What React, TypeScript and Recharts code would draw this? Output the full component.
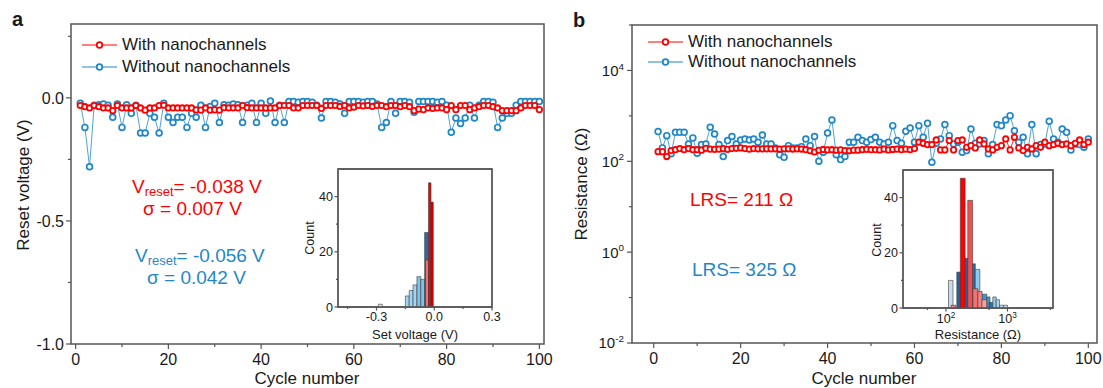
import React from "react"
import { ComposedChart, Line, XAxis, YAxis, ReferenceArea } from "recharts"

const RED = "#ff0000"
const BLUE = "#1f87c8"
const AX = "#555555"
const INK = "#1a1a1a"
const FONT = "'Liberation Sans', Arial, Helvetica, sans-serif"

// panel a: reset voltage (V) per cycle
const resetWith = [
  -0.031, -0.036, -0.041, -0.031, -0.036, -0.041, -0.041, -0.052, -0.031, -0.041,
  -0.041, -0.041, -0.031, -0.041, -0.05, -0.041, -0.041, -0.031, -0.03, -0.041,
  -0.041, -0.041, -0.041, -0.041, -0.041, -0.049, -0.05, -0.041, -0.05, -0.049,
  -0.05, -0.04, -0.041, -0.041, -0.041, -0.031, -0.04, -0.041, -0.041, -0.041,
  -0.041, -0.041, -0.041, -0.031, -0.031, -0.031, -0.041, -0.041, -0.031, -0.031,
  -0.031, -0.031, -0.043, -0.031, -0.031, -0.031, -0.035, -0.031, -0.041, -0.038,
  -0.031, -0.033, -0.031, -0.035, -0.031, -0.031, -0.036, -0.031, -0.031, -0.036,
  -0.031, -0.036, -0.052, -0.046, -0.048, -0.041, -0.043, -0.041, -0.041, -0.048,
  -0.031, -0.048, -0.031, -0.031, -0.048, -0.041, -0.036, -0.031, -0.031, -0.036,
  -0.041, -0.052, -0.052, -0.052, -0.052, -0.041, -0.031, -0.031, -0.031, -0.048,
]
const resetWithout = [
  -0.022, -0.12, -0.28, -0.03, -0.028, -0.025, -0.03, -0.079, -0.025, -0.12,
  -0.028, -0.063, -0.03, -0.143, -0.143, -0.063, -0.079, -0.143, -0.022, -0.079,
  -0.1, -0.079, -0.079, -0.12, -0.063, -0.079, -0.03, -0.12, -0.035, -0.022,
  -0.1, -0.028, -0.03, -0.025, -0.028, -0.1, -0.03, -0.022, -0.1, -0.022,
  -0.063, -0.013, -0.1, -0.03, -0.1, -0.015, -0.015, -0.018, -0.015, -0.015,
  -0.018, -0.03, -0.082, -0.015, -0.015, -0.018, -0.025, -0.063, -0.015, -0.015,
  -0.015, -0.018, -0.015, -0.015, -0.025, -0.12, -0.1, -0.015, -0.063, -0.015,
  -0.015, -0.018, -0.059, -0.015, -0.015, -0.015, -0.015, -0.018, -0.015, -0.03,
  -0.14, -0.082, -0.104, -0.082, -0.03, -0.082, -0.03, -0.015, -0.015, -0.018,
  -0.12, -0.082, -0.063, -0.063, -0.03, -0.015, -0.015, -0.015, -0.015, -0.015,
]

// panel b: LRS resistance (ohm) per cycle
const resWith = [
  163, 163, 127, 172, 180, 190, 180, 190, 180, 180,
  176, 193, 185, 183, 185, 190, 183, 190, 193, 197,
  190, 185, 190, 188, 188, 188, 188, 188, 185, 188,
  188, 186, 188, 186, 180, 170, 160, 175, 182, 178,
  180, 176, 178, 172, 170, 176, 176, 180, 183, 180,
  180, 178, 185, 178, 182, 185, 180, 185, 180, 190,
  263, 249, 233, 233, 295, 178, 178, 285, 178, 285,
  295, 203, 221, 197, 295, 241, 187, 178, 203, 221,
  310, 178, 337, 197, 172, 203, 187, 221, 203, 263,
  221, 233, 249, 233, 241, 221, 249, 295, 233, 263,
]
const resWithout = [
  450, 197, 367, 146, 434, 434, 434, 241, 327, 150,
  233, 241, 560, 400, 233, 127, 285, 350, 241, 295,
  310, 295, 310, 263, 380, 241, 241, 197, 139, 122,
  221, 197, 197, 210, 310, 221, 350, 100, 158, 420,
  810, 140, 109, 127, 263, 263, 337, 285, 263, 300,
  337, 263, 241, 263, 609, 285, 250, 457, 540, 263,
  609, 337, 684, 95, 250, 310, 642, 367, 241, 263,
  158, 172, 515, 250, 241, 285, 146, 233, 642, 609,
  810, 1010, 470, 263, 337, 146, 642, 146, 233, 241,
  760, 310, 263, 515, 434, 178, 241, 233, 203, 310,
]

// inset a: set voltage histograms
const setLoWithout = [-0.29, -0.15, -0.13, -0.11, -0.09, -0.07, -0.05]
const setHiWithout = [-0.27, -0.13, -0.11, -0.09, -0.07, -0.05, -0.03]
const setCountWithout = [1, 4, 6, 8, 11, 10, 27]
const setLoWith = [-0.045, -0.03, -0.017]
const setHiWith = [-0.03, -0.017, -0.005]
const setCountWith = [17, 45, 38]

// inset b: resistance histograms
const resLoWithout = [110, 150, 205, 260, 300, 385, 460, 500, 577, 656, 742, 860]
const resHiWithout = [130, 175, 235, 300, 355, 460, 520, 577, 656, 742, 860, 1000]
const resCountWithout = [10, 13, 18, 16, 14, 5, 4, 2, 4, 3, 1, 1]
const resLoWith = [121, 171, 226, 274, 330, 385]
const resHiWith = [145, 205, 271, 330, 387, 460]
const resCountWith = [1, 47, 39, 7, 6, 3]

const cycles = resetWith.map((_, i) => i + 1)
const resetData = cycles.map((c, i) => ({ cycle: c, with: resetWith[i], without: resetWithout[i] }))
const resData = cycles.map((c, i) => ({ cycle: c, with: resWith[i], without: resWithout[i] }))

// bar shades (style only)
const setShadeWithout = ["#d4e8f5", "#a3d5f0", "#a3d5f0", "#a3d5f0", "#7cc3ea", "#7cc3ea", "#2b6ea6"]
const setShadeWith = ["#ff7070", "#ff0000", "#d40000"]
const resShadeWithout = ["#c9dced", "#22649c", "#22649c", "#2a6ea6", "#8ccbec", "#3f9ad3", "#3f9ad3", "#2a6ea6", "#8ccbec", "#a6d6ef", "#c9dced", "#c9dced"]
const resShadeWith = ["#f08080", "#ff0000", "#f24f4f", "#f47272", "#f58585", "#f7a0a0"]

const near = (v: number, list: number[]) => list.some(m => Math.abs(m - v) <= 1e-6 * Math.max(1, Math.abs(m)))

type TickOpts = { majors: number[]; fmt: (v: number) => React.ReactNode; fs: number; maj: number; min: number; gap: number }

function bottomTick(o: TickOpts) {
  return (p: any) => {
    const v = p.payload.value
    const isMaj = near(v, o.majors)
    return (
      <g>
        <line x1={p.x} x2={p.x} y1={p.y} y2={p.y + (isMaj ? o.maj : o.min)} stroke={AX} strokeWidth={1.2} />
        {isMaj && (
          <text x={p.x} y={p.y + o.gap} textAnchor="middle" fontSize={o.fs} fontFamily={FONT} fill={INK}>
            {o.fmt(v)}
          </text>
        )}
      </g>
    )
  }
}

function leftTick(o: TickOpts) {
  return (p: any) => {
    const v = p.payload.value
    const isMaj = near(v, o.majors)
    return (
      <g>
        <line x1={p.x} x2={p.x - (isMaj ? o.maj : o.min)} y1={p.y} y2={p.y} stroke={AX} strokeWidth={1.2} />
        {isMaj && (
          <text x={p.x - o.gap} y={p.y + o.fs * 0.36} textAnchor="end" fontSize={o.fs} fontFamily={FONT} fill={INK}>
            {o.fmt(v)}
          </text>
        )}
      </g>
    )
  }
}

const fixed1 = (v: number) => (Math.abs(v) < 1e-9 ? "0.0" : v.toFixed(1))
const pow10 = (fs: number) => (v: number) => {
  const e = Math.round(Math.log10(v))
  return (
    <>
      <tspan>10</tspan>
      <tspan dy={-fs * 0.42} fontSize={fs * 0.66}>{e}</tspan>
    </>
  )
}

function LegendBlock({ left, top, gap, width }: { left: number; top: number; gap: number; width: number }) {
  const rows = [
    { name: "With nanochannels", color: RED },
    { name: "Without nanochannels", color: BLUE },
  ]
  return (
    <div style={{ position: "absolute", left, top, fontFamily: FONT, fontSize: 17, color: INK }}>
      {rows.map((r, i) => (
        <div key={r.name} style={{ position: "absolute", left: 0, top: i * gap, height: 20, display: "flex", alignItems: "center", whiteSpace: "nowrap" }}>
          <svg width={width} height={20} style={{ marginRight: 5 }}>
            <line x1={0} x2={width} y1={10} y2={10} stroke={r.color} strokeWidth={1.2} />
            <circle cx={width / 2} cy={10} r={2.8} fill="#fff" stroke={r.color} strokeWidth={1.8} />
          </svg>
          <span>{r.name}</span>
        </div>
      ))}
    </div>
  )
}

const txt = (left: number, top: number, color: string, size: number, children: React.ReactNode, extra: React.CSSProperties = {}) => (
  <div style={{ position: "absolute", left, top, color, fontSize: size, lineHeight: `${size + 1}px`, fontFamily: FONT, whiteSpace: "nowrap", ...extra }}>
    {children}
  </div>
)

const Sub = ({ children }: { children: React.ReactNode }) => (
  <span style={{ fontSize: 13, position: "relative", top: 3, lineHeight: "13px" }}>{children}</span>
)

const blueDot = { r: 2.9, stroke: BLUE, strokeWidth: 1.7, fill: "#fff" }
const redDot = { r: 2.7, stroke: RED, strokeWidth: 1.8, fill: "#fff" }

function MainReset() {
  return (
    <ComposedChart width={560} height={388} data={resetData} margin={{ top: 24, right: 16, bottom: 43, left: 70 }}>
      <XAxis
        dataKey="cycle" type="number" domain={[-1, 101]} allowDataOverflow height={1}
        ticks={[0, 10, 20, 30, 40, 50, 60, 70, 80, 90, 100]} interval={0}
        tickLine={false} tickSize={0} tickMargin={0} axisLine={false}
        tick={bottomTick({ majors: [0, 20, 40, 60, 80, 100], fmt: v => String(v), fs: 16, maj: 5, min: 3, gap: 21 })}
      />
      <YAxis
        type="number" domain={[-1, 0.3]} allowDataOverflow width={1}
        ticks={[-1, -0.75, -0.5, -0.25, 0, 0.25]} interval={0}
        tickLine={false} tickSize={0} tickMargin={0} axisLine={false}
        tick={leftTick({ majors: [-1, -0.5, 0], fmt: fixed1, fs: 16, maj: 5, min: 3, gap: 7 })}
      />
      <ReferenceArea x1={-1} x2={101} y1={-1} y2={0.3} fill="none" stroke={AX} strokeWidth={1.5} />
      <Line type="linear" dataKey="without" stroke="#4fa3d6" strokeWidth={1}
        dot={blueDot} activeDot={false} isAnimationActive={false} />
      <Line type="linear" dataKey="with" stroke="#ff3030" strokeWidth={1}
        dot={redDot} activeDot={false} isAnimationActive={false} />
    </ComposedChart>
  )
}

function MainRes() {
  return (
    <ComposedChart width={543} height={388} data={resData} margin={{ top: 25, right: 6, bottom: 44, left: 71 }}>
      <XAxis
        dataKey="cycle" type="number" domain={[-5, 102]} allowDataOverflow height={1}
        ticks={[0, 10, 20, 30, 40, 50, 60, 70, 80, 90, 100]} interval={0}
        tickLine={false} tickSize={0} tickMargin={0} axisLine={false}
        tick={bottomTick({ majors: [0, 20, 40, 60, 80, 100], fmt: v => String(v), fs: 16, maj: 5, min: 3, gap: 21 })}
      />
      <YAxis
        type="number" scale="log" domain={[0.01, 100000]} allowDataOverflow width={1}
        ticks={[0.01, 0.1, 1, 10, 100, 1000, 10000, 100000]} interval={0}
        tickLine={false} tickSize={0} tickMargin={0} axisLine={false}
        tick={leftTick({ majors: [0.01, 1, 100, 10000], fmt: pow10(15), fs: 15, maj: 5, min: 3, gap: 8 })}
      />
      <ReferenceArea x1={-5} x2={102} y1={0.01} y2={100000} fill="none" stroke={AX} strokeWidth={1.5} />
      <Line type="linear" dataKey="without" stroke="#4fa3d6" strokeWidth={1}
        dot={blueDot} activeDot={false} isAnimationActive={false} />
      <Line type="linear" dataKey="with" stroke="#ff3030" strokeWidth={1}
        dot={redDot} activeDot={false} isAnimationActive={false} />
    </ComposedChart>
  )
}

function bins(lo: number[], hi: number[], count: number[], shade: string[], key: string) {
  return lo.map((l, i) => (
    <ReferenceArea key={key + i} x1={l} x2={hi[i]} y1={0} y2={count[i]}
      fill={shade[i]} fillOpacity={1} stroke="#3a3a3a" strokeWidth={0.6} ifOverflow="visible" />
  ))
}

function InsetSet() {
  return (
    <ComposedChart width={220} height={190} data={[]} margin={{ top: 9, right: 18, bottom: 42, left: 47 }}>
      <XAxis
        type="number" dataKey="x" domain={[-0.5, 0.3]} allowDataOverflow height={1}
        ticks={[-0.45, -0.3, -0.15, 0, 0.15, 0.3]} interval={0}
        tickLine={false} tickSize={0} tickMargin={0} axisLine={false}
        tick={bottomTick({ majors: [-0.3, 0, 0.3], fmt: fixed1, fs: 12.5, maj: 3.5, min: 2, gap: 14 })}
      />
      <YAxis
        type="number" domain={[0, 50]} allowDataOverflow width={1}
        ticks={[0, 10, 20, 30, 40]} interval={0}
        tickLine={false} tickSize={0} tickMargin={0} axisLine={false}
        tick={leftTick({ majors: [0, 20, 40], fmt: v => String(v), fs: 12.5, maj: 3.5, min: 2, gap: 5 })}
      />
      <ReferenceArea x1={-0.5} x2={0.3} y1={0} y2={50} fill="#fff" stroke={AX} strokeWidth={1.3} />
      {bins(setLoWithout, setHiWithout, setCountWithout, setShadeWithout, "sw")}
      {bins(setLoWith, setHiWith, setCountWith, setShadeWith, "sr")}
      <ReferenceArea x1={-0.5} x2={0.3} y1={0} y2={50} fill="none" stroke={AX} strokeWidth={1.3} />
    </ComposedChart>
  )
}

function InsetRes() {
  return (
    <ComposedChart width={220} height={190} data={[]} margin={{ top: 10, right: 22, bottom: 41, left: 47 }}>
      <XAxis
        type="number" dataKey="x" scale="log" domain={[20, 5500]} allowDataOverflow height={1}
        ticks={[50, 100, 500, 1000, 5000]} interval={0}
        tickLine={false} tickSize={0} tickMargin={0} axisLine={false}
        tick={bottomTick({ majors: [100, 1000], fmt: pow10(12.5), fs: 12.5, maj: 3.5, min: 2, gap: 15 })}
      />
      <YAxis
        type="number" domain={[0, 50]} allowDataOverflow width={1}
        ticks={[0, 10, 20, 30, 40]} interval={0}
        tickLine={false} tickSize={0} tickMargin={0} axisLine={false}
        tick={leftTick({ majors: [0, 20, 40], fmt: v => String(v), fs: 12.5, maj: 3.5, min: 2, gap: 5 })}
      />
      <ReferenceArea x1={20} x2={5500} y1={0} y2={50} fill="#fff" stroke={AX} strokeWidth={1.3} />
      {bins(resLoWithout, resHiWithout, resCountWithout, resShadeWithout, "rw")}
      {bins(resLoWith, resHiWith, resCountWith, resShadeWith, "rr")}
      <ReferenceArea x1={20} x2={5500} y1={0} y2={50} fill="none" stroke={AX} strokeWidth={1.3} />
    </ComposedChart>
  )
}

export default function App() {
  return (
    <div style={{ position: "absolute", left: 0, top: 0, width: 1103, height: 388, background: "#fff", overflow: "hidden", fontFamily: FONT }}>
      <div style={{ position: "absolute", left: 0, top: 0 }}><MainReset /></div>
      <div style={{ position: "absolute", left: 560, top: 0 }}><MainRes /></div>
      <div style={{ position: "absolute", left: 290, top: 160 }}><InsetSet /></div>
      <div style={{ position: "absolute", left: 855, top: 160 }}><InsetRes /></div>

      <LegendBlock left={82} top={35} gap={22} width={35} />
      <LegendBlock left={648} top={32} gap={20} width={35} />

      {txt(12, 9, INK, 20, "a", { fontWeight: 700 })}
      {txt(573, 10, INK, 20, "b", { fontWeight: 700 })}

      {txt(132, 177, RED, 19, <>V<Sub>reset</Sub>= -0.038 V</>)}
      {txt(143, 199, RED, 19, "σ = 0.007 V")}
      {txt(135, 246, BLUE, 19, <>V<Sub>reset</Sub>= -0.056 V</>)}
      {txt(147, 268, BLUE, 19, "σ = 0.042 V")}

      {txt(690, 190, RED, 19, "LRS= 211 Ω")}
      {txt(692, 260, BLUE, 19, "LRS= 325 Ω")}

      {txt(24, 185, INK, 17, "Reset voltage (V)", { transform: "translate(-50%, -50%) rotate(-90deg)" })}
      {txt(582, 184, INK, 17, "Resistance (Ω)", { transform: "translate(-50%, -50%) rotate(-90deg)" })}
      {txt(307, 370, INK, 17, "Cycle number", { transform: "translateX(-50%)" })}
      {txt(864, 370, INK, 17, "Cycle number", { transform: "translateX(-50%)" })}

      {txt(311, 238, INK, 12.5, "Count", { transform: "translate(-50%, -50%) rotate(-90deg)" })}
      {txt(878, 240, INK, 12.5, "Count", { transform: "translate(-50%, -50%) rotate(-90deg)" })}
      {txt(415, 328, INK, 13, "Set voltage (V)", { transform: "translateX(-50%)" })}
      {txt(978, 328, INK, 13, "Resistance (Ω)", { transform: "translateX(-50%)" })}
    </div>
  )
}
